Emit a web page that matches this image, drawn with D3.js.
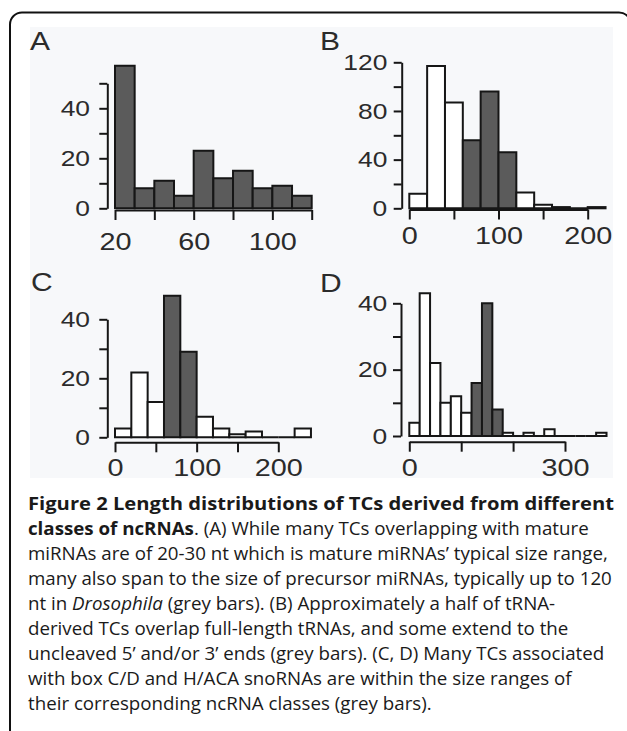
<!DOCTYPE html>
<html lang="en">
<head>
    <meta charset="UTF-8">
    <script src="https://cdn.jsdelivr.net/npm/d3@7/dist/d3.min.js"></script>
    <title>Figure 2 length distributions</title>
    <style>
        body { margin: 0; background: #fff; }
        svg { display: block; }
    </style>
</head>
<body>
<script>
    // bin starts and counts
    var binsA = [20, 30, 40, 50, 60, 70, 80, 90, 100, 110];
    var countsA = [57, 8, 11, 5, 23, 12, 15, 8, 9, 5];
    var greyA = [20, 120];

    var binsB = [0, 20, 40, 60, 80, 100, 120, 140, 160, 180, 200];
    var countsB = [12, 117, 87, 56, 96, 46, 13, 3, 1, 0, 1];
    var greyB = [60, 120];

    var binsC = [0, 20, 40, 60, 80, 100, 120, 140, 160, 180, 200, 220];
    var countsC = [3, 22, 12, 48, 29, 7, 3, 1, 2, 0, 0, 3];
    var greyC = [60, 100];

    var binsD = [0, 20, 40, 60, 80, 100, 120, 140, 160, 180, 200, 220, 240, 260, 280, 300, 320, 340, 360];
    var countsD = [4, 43, 22, 10, 12, 7, 16, 40, 8, 1, 0, 1, 0, 2, 0, 0, 0, 0, 1];
    var greyD = [120, 180];

    var yTicksA = [0, 10, 20, 30, 40, 50], yLabelsA = [0, 20, 40];
    var xTicksA = [20, 40, 60, 80, 100, 120], xLabelsA = [20, 60, 100];
    var yTicksB = [0, 20, 40, 60, 80, 100, 120], yLabelsB = [0, 40, 80, 120];
    var xTicksB = [0, 50, 100, 150, 200], xLabelsB = [0, 100, 200];
    var yTicksC = [0, 10, 20, 30, 40], yLabelsC = [0, 20, 40];
    var xTicksC = [0, 50, 100, 150, 200], xLabelsC = [0, 100, 200];
    var yTicksD = [0, 10, 20, 30, 40], yLabelsD = [0, 20, 40];
    var xTicksD = [0, 100, 200, 300], xLabelsD = [0, 300];

    var width = 627;
    var height = 731;
    var svg = d3.select("body").append("svg")
        .attr("width", width)
        .attr("height", height);

    // rounded frame, cut by the page on the right and bottom
    svg.append("rect")
        .attr("x", 10).attr("y", 12.5)
        .attr("width", 621).attr("height", 780)
        .attr("rx", 12)
        .attr("fill", "#fff")
        .attr("stroke", "#111")
        .attr("stroke-width", 2);

    svg.append("rect")
        .attr("x", 30).attr("y", 27)
        .attr("width", 583).attr("height", 451)
        .attr("fill", "#f7f8fa");

    var stretch = 1.2;  // the figure's lettering is a bit wide

    function drawPanel(p) {
        var x = d3.scaleLinear().domain(p.xDomain).range(p.xRange);
        var y = d3.scaleLinear().domain(p.yDomain).range(p.yRange);
        var g = svg.append("g");

        g.selectAll("path.bar")
            .data(p.bins)
            .enter()
            .append("path")
            .attr("class", "bar")
            .attr("d", function (s, i) {
                var x0 = x(s), x1 = x(s + p.binWidth);
                var y0 = y(0), y1 = y(p.counts[i]);
                return "M" + x0 + "," + y0 + "V" + y1 + "H" + x1 + "V" + y0 + "Z";
            })
            .attr("fill", function (s) {
                return (s >= p.grey[0] && s < p.grey[1]) ? "#5b5b5b" : "#fff";
            })
            .attr("stroke", "#161616")
            .attr("stroke-width", 2);

        var yAxis = g.append("g")
            .attr("transform", "translate(" + p.yAxisX + ",0)")
            .call(d3.axisLeft(y)
                .tickValues(p.yTicks)
                .tickFormat(function (d) { return p.yLabels.indexOf(d) >= 0 ? d : ""; })
                .tickSize(8)
                .tickSizeOuter(0));

        var xAxis = g.append("g")
            .attr("transform", "translate(0," + p.xAxisY + ")")
            .call(d3.axisBottom(x)
                .tickValues(p.xTicks)
                .tickFormat(function (d) { return p.xLabels.indexOf(d) >= 0 ? d : ""; })
                .tickSize(10)
                .tickSizeOuter(0)
                .tickPadding(p.xPad));

        [yAxis, xAxis].forEach(function (ax) {
            ax.select(".domain").attr("stroke", "#161616").attr("stroke-width", 2);
            ax.selectAll(".tick line").attr("stroke", "#161616").attr("stroke-width", 2);
            ax.selectAll("text")
                .attr("fill", "#2b2b2b")
                .style("font-family", "'Liberation Sans', Arial, sans-serif");
        });
        yAxis.selectAll("text")
            .style("font-size", "22px")
            .attr("x", -p.yPad / stretch)
            .attr("transform", "scale(" + stretch + ",1)");
        xAxis.selectAll("text")
            .style("font-size", "24px")
            .attr("transform", "scale(" + stretch + ",1)");

        svg.append("text")
            .attr("transform", "translate(" + p.labelX + "," + p.labelY + ") scale(" + stretch + ",1)")
            .attr("fill", "#2b2b2b")
            .style("font-family", "'Liberation Sans', Arial, sans-serif")
            .style("font-size", "25px")
            .text(p.label);
    }

    drawPanel({
        label: "A", labelX: 30, labelY: 50,
        bins: binsA, counts: countsA, binWidth: 10, grey: greyA,
        xDomain: [20, 120], xRange: [115, 311.7],
        yDomain: [0, 50], yRange: [208.3, 83.3],
        yAxisX: 107.3, xAxisY: 210,
        yTicks: yTicksA, yLabels: yLabelsA, xTicks: xTicksA, xLabels: xLabelsA,
        yPad: 17.3, xPad: 12.5
    });
    drawPanel({
        label: "B", labelX: 320, labelY: 50,
        bins: binsB, counts: countsB, binWidth: 20, grey: greyB,
        xDomain: [0, 200], xRange: [409.3, 587.7],
        yDomain: [0, 120], yRange: [208.3, 62.3],
        yAxisX: 401.7, xAxisY: 209.5,
        yTicks: yTicksB, yLabels: yLabelsB, xTicks: xTicksB, xLabels: xLabelsB,
        yPad: 14.4, xPad: 7.5
    });
    drawPanel({
        label: "C", labelX: 31, labelY: 290.5,
        bins: binsC, counts: countsC, binWidth: 20, grey: greyC,
        xDomain: [0, 200], xRange: [115, 278.3],
        yDomain: [0, 40], yRange: [437.3, 319.3],
        yAxisX: 107.3, xAxisY: 442.3,
        yTicks: yTicksC, yLabels: yLabelsC, xTicks: xTicksC, xLabels: xLabelsC,
        yPad: 17.3, xPad: 6.5
    });
    drawPanel({
        label: "D", labelX: 320, labelY: 291.5,
        bins: binsD, counts: countsD, binWidth: 20, grey: greyD,
        xDomain: [0, 300], xRange: [409.3, 565],
        yDomain: [0, 40], yRange: [436, 303.3],
        yAxisX: 401, xAxisY: 441.7,
        yTicks: yTicksD, yLabels: yLabelsD, xTicks: xTicksD, xLabels: xLabelsD,
        yPad: 13.7, xPad: 7
    });

    // caption, one entry per printed line: [text, style]
    var caption = [
        [["Figure 2 Length distributions of TCs derived from different", "b"]],
        [["classes of ncRNAs", "b"], [". (A) While many TCs overlapping with mature", ""]],
        [["miRNAs are of 20-30 nt which is mature miRNAs\u2019 typical size range,", ""]],
        [["many also span to the size of precursor miRNAs, typically up to 120", ""]],
        [["nt in ", ""], ["Drosophila", "i"], [" (grey bars). (B) Approximately a half of tRNA-", ""]],
        [["derived TCs overlap full-length tRNAs, and some extend to the", ""]],
        [["uncleaved 5\u2019 and/or 3\u2019 ends (grey bars). (C, D) Many TCs associated", ""]],
        [["with box C/D and H/ACA snoRNAs are within the size ranges of", ""]],
        [["their corresponding ncRNA classes (grey bars).", ""]]
    ];

    var cap = svg.append("g")
        .style("font-family", "'Open Sans', 'Noto Sans', sans-serif")
        .style("font-size", "18px")
        .attr("fill", "#1a1a1a");

    var lines = cap.selectAll("text")
        .data(caption)
        .enter()
        .append("text")
        .attr("x", 0)
        .attr("y", function (d, i) { return 510 + i * 25; });

    lines.each(function (parts) {
        var t = d3.select(this);
        parts.forEach(function (p) {
            t.append("tspan")
                .text(p[0])
                .style("font-weight", p[1] === "b" ? "bold" : null)
                .style("font-style", p[1] === "i" ? "italic" : null);
        });
    });

    var refLen = lines.nodes()[3].getComputedTextLength();
    var sx = 584 / refLen;
    cap.attr("transform", "translate(28,0) scale(" + sx + ",1)");
    // the bold heading line runs to the right margin too
    d3.select(lines.nodes()[0])
        .attr("textLength", 586 / sx)
        .attr("lengthAdjust", "spacingAndGlyphs");
</script>
</body>
</html>
